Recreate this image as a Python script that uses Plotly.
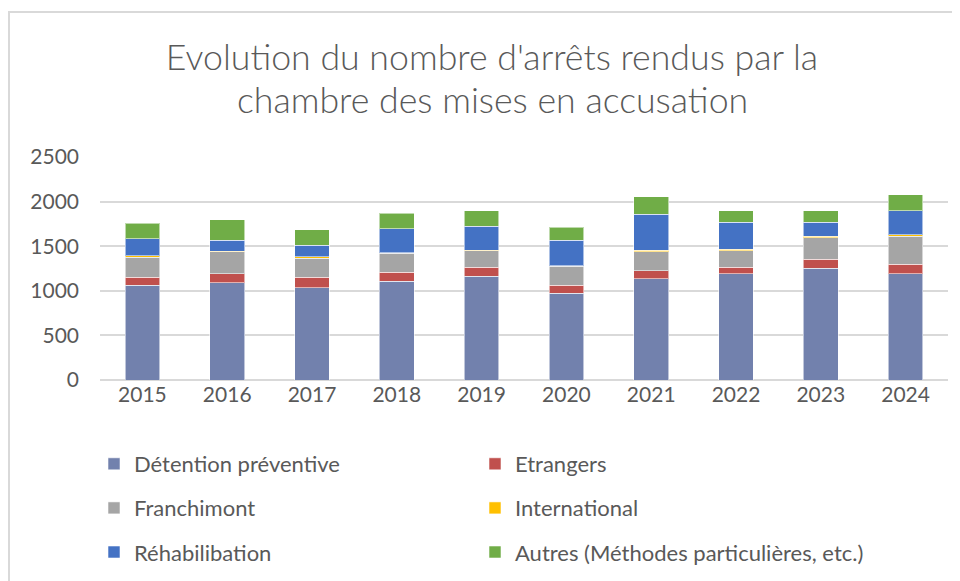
import plotly.graph_objects as go

years = ["2015", "2016", "2017", "2018", "2019", "2020", "2021", "2022", "2023", "2024"]
detention = [1064, 1090, 1034, 1105, 1161, 974, 1135, 1191, 1251, 1191]
etrangers = [86, 101, 116, 105, 101, 86, 90, 75, 101, 105]
franchimont = [228, 247, 214, 213, 188, 217, 213, 184, 244, 315]
international = [15, 3, 15, 3, 3, 3, 15, 15, 15, 15]
rehabilibation = [188, 128, 131, 270, 273, 289, 405, 303, 157, 273]
autres = [176, 228, 172, 176, 172, 146, 199, 127, 127, 176]

series = [
    ("Détention préventive", detention, "#7281AD", "legend"),
    ("Etrangers", etrangers, "#C0504D", "legend2"),
    ("Franchimont", franchimont, "#A5A5A5", "legend"),
    ("International", international, "#FFC000", "legend2"),
    ("Réhabilibation", rehabilibation, "#4472C4", "legend"),
    ("Autres (Méthodes particulières, etc.)", autres, "#70AD47", "legend2"),
]

FONT = "Lato"
GRAY = "#595959"

fig = go.Figure()
for i, (name, vals, color, lg) in enumerate(series):
    fig.add_trace(go.Bar(
        x=years, y=vals, name=name, legend=lg, legendgroup="g%d" % i,
        marker=dict(color=color, line=dict(color="rgba(255,255,255,0.55)", width=1)),
    ))

# page body has an 8px margin: target screen pixel = figure pixel + OFF
OFF = 8
W, H = 960, 581
L = 100 - OFF
T = 157 - OFF
R = W - (948 - OFF)
B = H - (380 - OFF)
pw = W - L - R
ph = H - T - B

def py(pix):
    return (H - B - (pix - OFF)) / ph

def px(pix):
    return ((pix - OFF) - L) / pw

def cy(pix):
    return 1 - (pix - OFF) / H

def cx(pix):
    return (pix - OFF) / W

legend_common = dict(
    orientation="v", xref="paper", yref="paper",
    xanchor="left", yanchor="top", y=py(443),
    font=dict(family=FONT, size=22, color=GRAY), tracegroupgap=12.5,
    bgcolor="rgba(0,0,0,0)", traceorder="grouped",
)

title_font = dict(family=FONT, size=35.7, color=GRAY, weight=300)

fig.update_layout(
    width=W, height=H,
    margin=dict(l=L, r=R, t=T, b=B, autoexpand=False),
    barmode="stack", bargap=0.59,
    plot_bgcolor="white", paper_bgcolor="white",
    font=dict(family=FONT, color=GRAY),
    title=dict(text="Evolution du nombre d'arrêts rendus par la", x=cx(492), xref="container",
               xanchor="center", y=cy(58), yref="container", yanchor="middle",
               font=title_font),
    annotations=[dict(text="chambre des mises en accusation", xref="paper", yref="paper",
                      x=px(492), y=py(100), xanchor="center", yanchor="middle",
                      showarrow=False, font=title_font)],
    xaxis=dict(showgrid=False, showline=False, ticks="",
               tickfont=dict(family=FONT, size=21, color=GRAY)),
    yaxis=dict(range=[0, 2500], dtick=500, showgrid=True, gridcolor="#D9D9D9", gridwidth=2,
               zeroline=True, zerolinecolor="#D9D9D9", zerolinewidth=2,
               showline=False, ticks="", tickfont=dict(family=FONT, size=21, color=GRAY),
               ticklabelstandoff=20),
    legend=dict(x=px(94), **legend_common),
    legend2=dict(x=px(475), **legend_common),
    shapes=[dict(type="rect", xref="paper", yref="paper",
                 x0=px(9), x1=px(985), y0=py(12), y1=py(610),
                 line=dict(color="#D9D9D9", width=2), fillcolor="rgba(0,0,0,0)", layer="below")],
    showlegend=True,
)

fig.write_html("out.html")
